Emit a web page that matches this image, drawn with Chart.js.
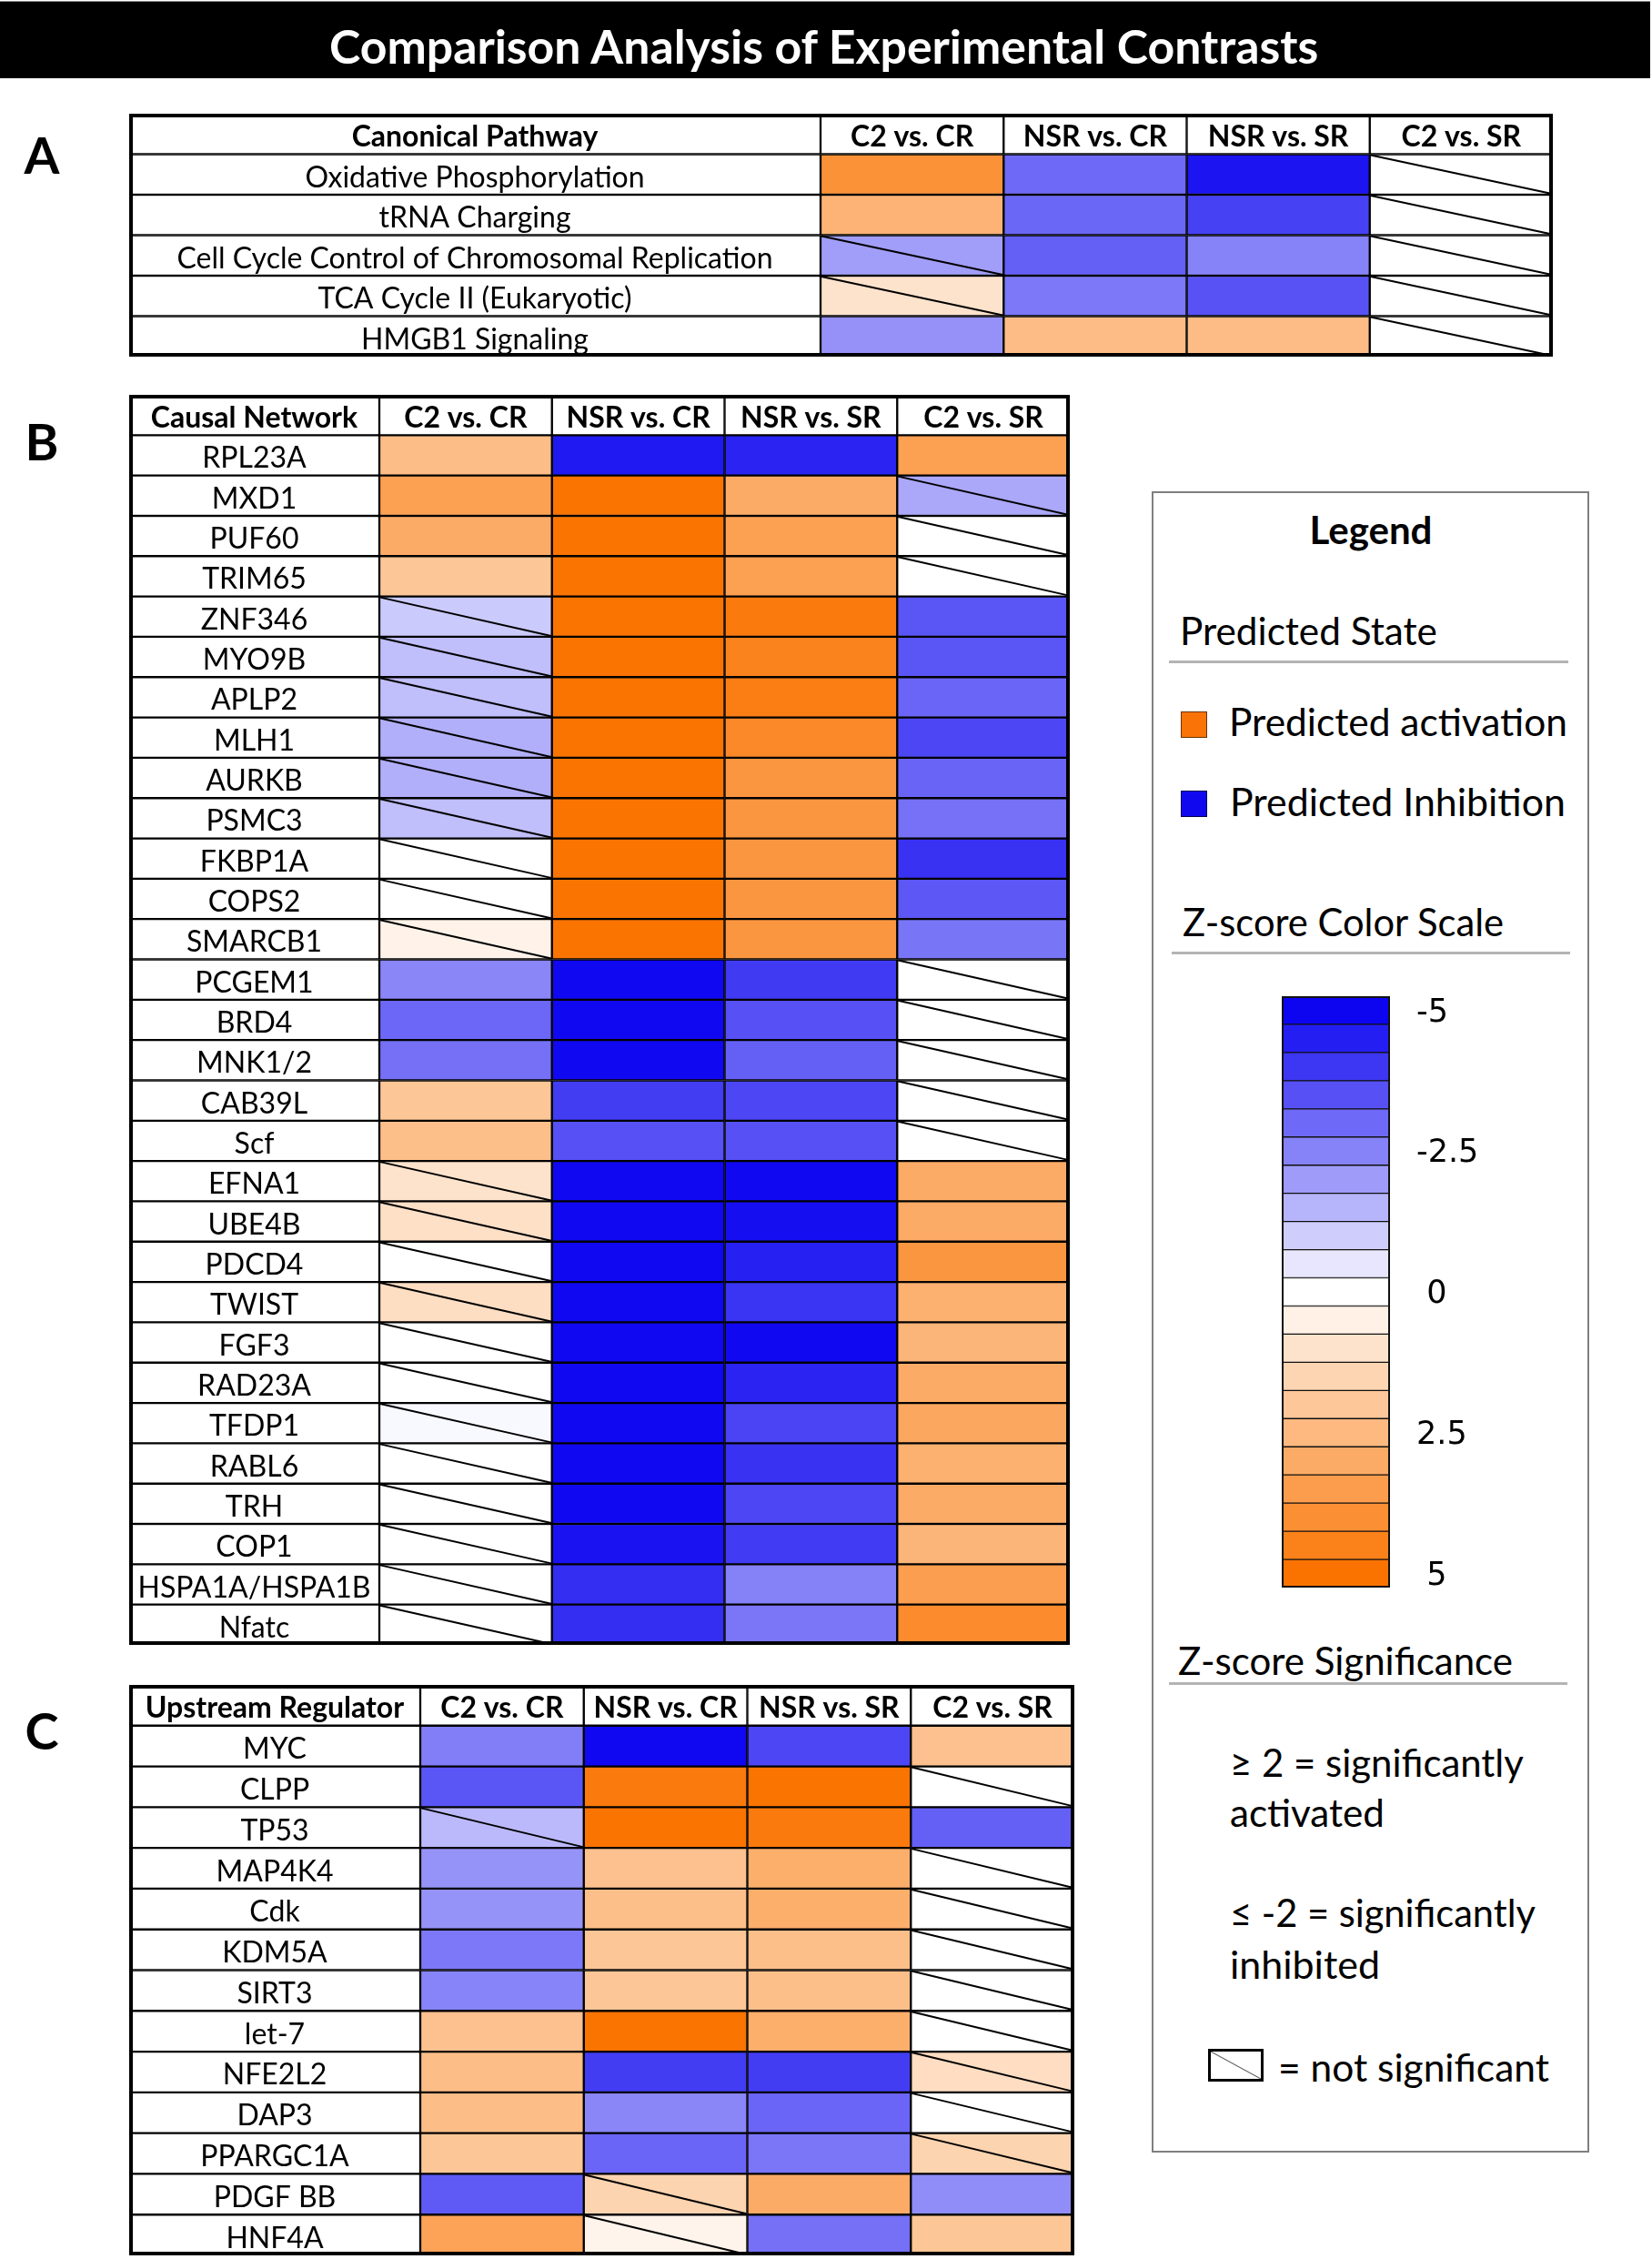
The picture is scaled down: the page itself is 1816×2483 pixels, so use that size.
<!DOCTYPE html>
<html>
<head>
<meta charset="utf-8">
<script src="https://cdn.jsdelivr.net/npm/chart.js@4.4.0/dist/chart.umd.min.js"></script>
<style>
  html, body { margin: 0; padding: 0; background: #fff; }
  body { width: 1816px; height: 2483px; position: relative; overflow: hidden; font-family: Lato, sans-serif; }
  .abs { position: absolute; }
  .txt { position: absolute; white-space: pre; line-height: 1; }
  canvas { position: absolute; display: block; }
</style>
</head>
<body>
<div class="abs" style="left:0;top:1px;width:1814px;height:84px;background:#000;border-top:1px solid #888;"></div>
<div class="abs" style="left:1266px;top:540px;width:481px;height:1826px;border:2px solid #7f7f7f;box-sizing:border-box;"></div>
<div class="abs" style="left:1285px;top:726px;width:439px;height:3px;background:#b4b4b4;"></div>
<div class="abs" style="left:1288px;top:1046px;width:438px;height:3px;background:#b4b4b4;"></div>
<div class="abs" style="left:1285px;top:1849px;width:438px;height:3px;background:#b4b4b4;"></div>
<div class="abs" style="left:1298px;top:782px;width:29px;height:29px;background:#f97306;border:1px solid #6b3300;box-sizing:border-box;"></div>
<div class="abs" style="left:1298px;top:869px;width:29px;height:29px;background:#1008ef;border:1px solid #000050;box-sizing:border-box;"></div>
<div class="abs" style="left:1328px;top:2252px;width:61px;height:36px;border:3px solid #000;box-sizing:border-box;
  background:linear-gradient(to top right, #fff calc(50% - 1px), #555 50%, #fff calc(50% + 1px));"></div>

<canvas id="tableA" width="1565" height="267" style="left:142px;top:125px;"></canvas>
<canvas id="tableB" width="1034" height="1374" style="left:142px;top:434px;"></canvas>
<canvas id="tableC" width="1039" height="627" style="left:142px;top:1852px;"></canvas>
<canvas id="zscale" width="239" height="650" style="left:1409px;top:1095px;"></canvas>

<script>
// contrasts shown as columns in every table
const contrasts = ['C2 vs. CR', 'NSR vs. CR', 'NSR vs. SR', 'C2 vs. SR'];

// A - canonical pathways (z-scores, null = no value)
const pathways = ['Oxidative Phosphorylation', 'tRNA Charging', 'Cell Cycle Control of Chromosomal Replication',
  'TCA Cycle II (Eukaryotic)', 'HMGB1 Signaling'];
const pathwayZ = [
  [3.9, -3.0, -4.7, null],
  [2.7, -3.05, -3.8, null],
  [-1.95, -3.2, -2.5, null],
  [1.0, -2.7, -3.45, null],
  [-2.2, 2.4, 2.4, null]
];

// B - causal networks
const networks = ['RPL23A', 'MXD1', 'PUF60', 'TRIM65', 'ZNF346', 'MYO9B', 'APLP2', 'MLH1', 'AURKB', 'PSMC3',
  'FKBP1A', 'COPS2', 'SMARCB1', 'PCGEM1', 'BRD4', 'MNK1/2', 'CAB39L', 'Scf', 'EFNA1', 'UBE4B', 'PDCD4',
  'TWIST', 'FGF3', 'RAD23A', 'TFDP1', 'RABL6', 'TRH', 'COP1', 'HSPA1A/HSPA1B', 'Nfatc'];
const networkZ = [
  [2.36, -4.6, -4.4, 3.4],
  [3.4, 4.96, 3.0, -1.74],
  [3.0, 4.96, 3.4, null],
  [2.04, 4.96, 3.4, null],
  [-1.07, 4.96, 4.75, -3.4],
  [-1.3, 4.96, 4.43, -3.4],
  [-1.3, 4.96, 4.6, -3.08],
  [-1.6, 4.96, 4.2, -3.7],
  [-1.6, 4.96, 3.75, -3.1],
  [-1.3, 4.96, 3.75, -2.83],
  [null, 4.96, 3.75, -4.1],
  [null, 4.96, 3.75, -3.37],
  [0.43, 4.96, 3.75, -2.77],
  [-2.42, -4.94, -3.95, null],
  [-3.04, -4.94, -3.5, null],
  [-2.85, -4.94, -3.18, null],
  [2.04, -3.9, -3.7, null],
  [2.3, -3.5, -3.5, null],
  [1.0, -4.94, -4.94, 3.0],
  [1.1, -4.94, -4.83, 3.0],
  [null, -4.94, -4.46, 3.75],
  [1.18, -4.94, -4.07, 2.8],
  [null, -4.94, -4.94, 2.64],
  [null, -4.94, -4.4, 3.0],
  [-0.15, -4.94, -3.74, 3.14],
  [null, -4.94, -4.1, 2.8],
  [null, -4.94, -3.7, 3.0],
  [null, -4.73, -3.93, 2.64],
  [null, -4.2, -2.52, 3.46],
  [null, -4.2, -2.75, 4.14]
];

// C - upstream regulators
const regulators = ['MYC', 'CLPP', 'TP53', 'MAP4K4', 'Cdk', 'KDM5A', 'SIRT3', 'let-7', 'NFE2L2', 'DAP3',
  'PPARGC1A', 'PDGF BB', 'HNF4A'];
const regulatorZ = [
  [-2.58, -4.94, -3.7, 2.2],
  [-3.4, 4.75, 4.96, null],
  [-1.4, 4.96, 4.75, -3.2],
  [-2.17, 2.2, 2.9, null],
  [-2.17, 2.3, 2.9, null],
  [-2.7, 2.04, 2.3, null],
  [-2.48, 2.04, 2.3, null],
  [2.2, 4.96, 2.9, null],
  [2.36, -3.9, -3.9, 1.2],
  [2.36, -2.42, -3.08, null],
  [2.04, -3.08, -2.75, 1.54],
  [-3.3, 1.54, 3.0, -2.3],
  [3.3, 0.4, -2.85, 2.04]
];

// colour scale legend
const scaleSteps = [-5, -4.5, -4, -3.5, -3, -2.5, -2, -1.5, -1, -0.5, 0, 0.5, 1, 1.5, 2, 2.5, 3, 3.5, 4, 4.5, 5];
const scaleTicks = [-5, -2.5, 0, 2.5, 5];
const scaleTickLabels = ['-5', '-2.5', ' 0', '2.5', ' 5'];

const BLUE = [13, 5, 240];
const ORANGE = [250, 115, 0];

const zColor = (z) => {
  if (z === null) return '#ffffff';
  const t = Math.min(Math.abs(z), 5) / 5;
  const end = z < 0 ? BLUE : ORANGE;
  const rgb = end.map(v => Math.round(255 + (v - 255) * t));
  return `rgb(${rgb.join(',')})`;
}

const notSignificant = (z) => z === null || Math.abs(z) < 2;

// draws cell text, diagonal for non significant cells and the outer frame
const tableCells = {
  id: 'tableCells',
  afterDatasetsDraw(chart) {
    const ctx = chart.ctx;
    ctx.save();
    chart.data.datasets.forEach((ds, di) => {
      const meta = chart.getDatasetMeta(di);
      meta.data.forEach((bar, i) => {
        const p = bar.getProps(['x', 'y', 'base', 'height'], true);
        const left = Math.min(p.x, p.base), right = Math.max(p.x, p.base);
        const top = p.y - p.height / 2, bottom = p.y + p.height / 2;
        if (ds.hatch && ds.hatch[i]) {
          ctx.beginPath();
          ctx.moveTo(left + 1, top + 1);
          ctx.lineTo(right - 1, bottom - 1);
          ctx.strokeStyle = '#000';
          ctx.lineWidth = 2;
          ctx.stroke();
        }
        const t = ds.texts[i];
        if (t) {
          ctx.font = (i === 0 ? 'bold ' : '') + '32px Lato';
          ctx.fillStyle = '#000';
          ctx.textAlign = 'center';
          ctx.textBaseline = 'alphabetic';
          ctx.fillText(t, (left + right) / 2, p.y + 14, right - left - 8);
        }
      });
    });
    const a = chart.chartArea;
    ctx.lineWidth = 4;
    ctx.strokeStyle = '#000';
    ctx.strokeRect(a.left + 2, a.top + 2, a.right - a.left - 4, a.bottom - a.top - 4);
    ctx.restore();
  }
};

const cellStyle = {
  grouped: false,
  barPercentage: 1,
  categoryPercentage: 1,
  borderColor: '#000',
  borderWidth: 1.5,
  borderSkipped: false
};

const renderTable = (id, heading, rows, zRows, labelSpan) => {
  const cats = [heading].concat(rows);
  const datasets = [Object.assign({
    label: heading,
    data: cats.map(() => [-labelSpan, 0]),
    backgroundColor: '#ffffff',
    texts: cats
  }, cellStyle)];
  contrasts.forEach((name, j) => {
    datasets.push(Object.assign({
      label: name,
      data: cats.map(() => [j, j + 1]),
      backgroundColor: cats.map((c, i) => i === 0 ? '#ffffff' : zColor(zRows[i - 1][j])),
      hatch: cats.map((c, i) => i > 0 && notSignificant(zRows[i - 1][j])),
      texts: cats.map((c, i) => i === 0 ? name : '')
    }, cellStyle));
  });
  return new Chart(document.getElementById(id), {
    type: 'bar',
    data: { labels: cats, datasets: datasets },
    options: {
      responsive: false,
      animation: false,
      devicePixelRatio: 1,
      indexAxis: 'y',
      events: [],
      layout: { padding: 0 },
      plugins: { legend: { display: false }, tooltip: { enabled: false } },
      scales: {
        x: { type: 'linear', min: -labelSpan, max: contrasts.length, display: false },
        y: { type: 'category', display: false, offset: true }
      }
    },
    plugins: [tableCells]
  });
}

renderTable('tableA', 'Canonical Pathway', pathways, pathwayZ, 760 / 201.25);
renderTable('tableB', 'Causal Network', networks, networkZ, 275 / 189.75);
renderTable('tableC', 'Upstream Regulator', regulators, regulatorZ, 320 / 179.75);

// z-score colour scale
const scaleFrame = {
  id: 'scaleFrame',
  afterDatasetsDraw(chart) {
    const a = chart.chartArea;
    const ctx = chart.ctx;
    ctx.save();
    ctx.lineWidth = 2;
    ctx.strokeStyle = '#111';
    ctx.strokeRect(a.left + 1, a.top + 1, a.right - a.left - 2, a.bottom - a.top - 2);
    ctx.restore();
  }
};

new Chart(document.getElementById('zscale'), {
  type: 'bar',
  data: {
    labels: scaleSteps,
    datasets: [{
      data: scaleSteps.map(() => [0, 1]),
      backgroundColor: scaleSteps.map(zColor),
      borderColor: '#111',
      borderWidth: 1,
      borderSkipped: false,
      grouped: false,
      barPercentage: 1,
      categoryPercentage: 1
    }]
  },
  options: {
    responsive: false,
    animation: false,
    devicePixelRatio: 1,
    indexAxis: 'y',
    events: [],
    layout: { padding: 0 },
    plugins: { legend: { display: false }, tooltip: { enabled: false } },
    scales: {
      x: { type: 'linear', min: 0, max: 1, display: false },
      y: {
        type: 'category',
        position: 'right',
        offset: true,
        grid: { display: false, drawTicks: false },
        border: { display: false },
        ticks: {
          autoSkip: false,
          padding: 29,
          labelOffset: 3,
          crossAlign: 'near',
          color: '#000',
          font: { family: 'DejaVu Sans', size: 35 },
          callback: (v, i) => {
            const k = scaleTicks.indexOf(scaleSteps[i]);
            return k < 0 ? '' : scaleTickLabels[k];
          }
        },
        afterFit: (s) => { s.width = 120; s.paddingTop = 0; s.paddingBottom = 0; }
      }
    }
  },
  plugins: [scaleFrame]
});

// html texts, sized so that each one spans its width in the figure
const measure = document.createElement('canvas').getContext('2d');
const placeText = (str, x, baseline, width, opts = {}) => {
  const weight = opts.bold ? 'bold ' : '';
  const family = opts.family || 'Lato';
  measure.font = `${weight}100px ${family}`;
  const m = measure.measureText(str);
  const size = opts.size || 100 * width / m.width;
  const asc = m.fontBoundingBoxAscent / 100, desc = m.fontBoundingBoxDescent / 100;
  const offset = (1 - (asc + desc)) / 2 + asc;
  const el = document.createElement('div');
  el.className = 'txt';
  el.textContent = str;
  el.style.font = `${weight}${size}px ${family}`;
  el.style.color = opts.color || '#000';
  el.style.top = (baseline - offset * size) + 'px';
  const w = m.width * size / 100;
  el.style.left = (opts.center ? x - w / 2 : x) + 'px';
  document.body.appendChild(el);
}

placeText('Comparison Analysis of Experimental Contrasts', 907, 65, 1090, { bold: true, center: true, color: '#fff' });
placeText('A', 46, 186, 0, { bold: true, center: true, size: 56 });
placeText('B', 46, 501, 0, { bold: true, center: true, size: 56 });
placeText('C', 46, 1918, 0, { bold: true, center: true, size: 56 });

placeText('Legend', 1507, 594, 135, { bold: true, center: true });
placeText('Predicted State', 1297, 705, 283);
placeText('Predicted activation', 1351, 805, 372);
placeText('Predicted Inhibition', 1352, 893, 369);
placeText('Z-score Color Scale', 1300, 1025, 354);
placeText('Z-score Significance', 1295, 1837, 368);
placeText('\u2265 2 = significantly', 1352, 1949, 323);
placeText('activated', 1352, 2004, 170);
placeText('\u2264 -2 = significantly', 1352, 2114, 336);
placeText('inhibited', 1352, 2171, 165);
placeText('= not significant', 1405, 2284, 298);
</script>
</body>
</html>
